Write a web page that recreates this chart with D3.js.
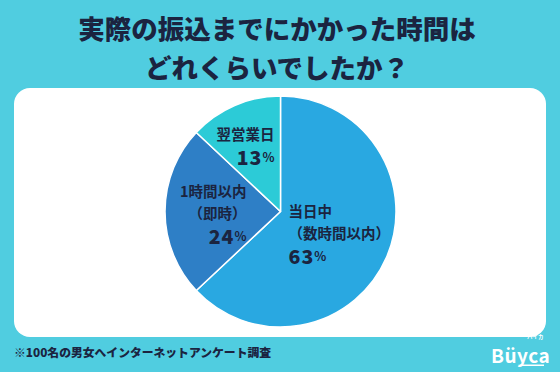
<!DOCTYPE html>
<html><head><meta charset="utf-8">
<script src="https://cdn.jsdelivr.net/npm/d3@7"></script>
<style>
html,body{margin:0;padding:0;background:#50cde0;}
svg{display:block;}
text{font-family:"Noto Sans CJK JP","Noto Sans",sans-serif;}
</style></head>
<body>
<svg id="chart" width="560" height="372"></svg>
<script>
const titleLines = ["実際の振込までにかかった時間は", "どれくらいでしたか？"];
const categories = ["当日中（数時間以内）", "1時間以内（即時）", "翌営業日"];
const labelLines = [["当日中", "（数時間以内）"], ["1時間以内", "（即時）"], ["翌営業日"]];
const values = [63, 24, 13];
const colors = ["#29a8e1", "#2e7fc6", "#2ccbd7"];
const footnote = "※100名の男女へインターネットアンケート調査";

const W = 560, H = 372;
const svg = d3.select("#chart");
const navy = "#1b2440";

svg.append("rect").attr("width", W).attr("height", H).attr("fill", "#50cde0");

svg.selectAll("text.title").data(titleLines).join("text")
  .attr("class", "title")
  .attr("x", W / 2 - 3).attr("y", (d, i) => 27.5 + i * 38.5)
  .attr("text-anchor", "middle").attr("dominant-baseline", "central")
  .attr("font-size", 26.5).attr("font-weight", 900).attr("fill", navy)
  .text(d => d);

svg.append("rect").attr("x", 14).attr("y", 88).attr("width", 532).attr("height", 249)
  .attr("rx", 16).attr("fill", "#ffffff");

const cx = 280.5, cy = 211.5, R = 115.5;
const pie = d3.pie().sort(null).value(d => d)(values);
const arc = d3.arc().innerRadius(0).outerRadius(R);
const g = svg.append("g").attr("transform", `translate(${cx},${cy})`);
g.selectAll("path").data(pie).join("path")
  .attr("d", arc).attr("fill", (d, i) => colors[i])
  .attr("stroke", "#ffffff").attr("stroke-width", 1.5).attr("stroke-linejoin", "round");

// label layout (anchor x, first line y, text-anchor) relative to pie centre
const layout = [
  { x: 8, y: -1, anchor: "start" },
  { x: -34, y: -21, anchor: "end" },
  { x: -6, y: -78, anchor: "end" }
];
pie.forEach((p, i) => {
  const L = layout[i];
  const t = g.append("g");
  labelLines[i].forEach((line, j) => {
    t.append("text").attr("x", L.x).attr("y", L.y + j * 21.5)
      .attr("text-anchor", L.anchor).attr("dominant-baseline", "central")
      .attr("font-size", 14.5).attr("font-weight", 700).attr("fill", navy)
      .text(line);
  });
  const nt = t.append("text").attr("x", L.x).attr("y", L.y + labelLines[i].length * 21.5 + 1)
    .attr("text-anchor", L.anchor).attr("dominant-baseline", "central").attr("fill", navy);
  nt.append("tspan").attr("font-size", 19.5).attr("font-weight", 900).attr("letter-spacing", 1).text(values[i]);
  nt.append("tspan").attr("font-size", 12.5).attr("font-weight", 700).text("%");
});

svg.append("text").attr("x", 14).attr("y", 351)
  .attr("dominant-baseline", "central")
  .attr("font-size", 11.8).attr("font-weight", 900).attr("fill", navy)
  .text(footnote);

// logo
svg.append("text").attr("x", 491).attr("y", 362.5)
  .attr("font-family", "Roboto, sans-serif").attr("font-size", 19).attr("font-weight", 700)
  .attr("fill", "#ffffff").attr("letter-spacing", 0.5).text("Büyca");
svg.append("text").attr("x", 527).attr("y", 339)
  .attr("font-size", 5.5).attr("font-weight", 700).attr("fill", "#ffffff").text("バイカ");
svg.append("rect").attr("x", 520).attr("y", 364.5).attr("width", 24).attr("height", 1.5).attr("fill", "#ffffff");
</script>
</body></html>
